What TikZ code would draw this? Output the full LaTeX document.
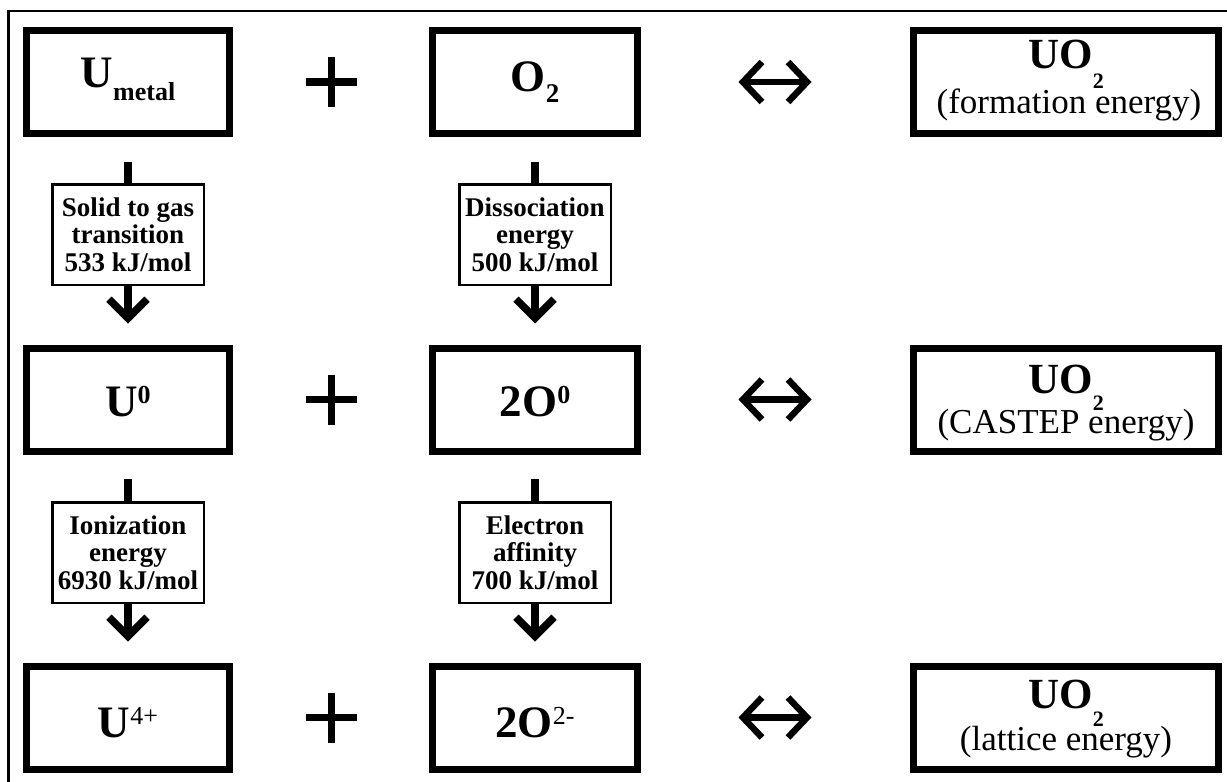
\documentclass[tikz,border=0pt]{standalone}
\usepackage{fontspec}
\setmainfont{Liberation Serif}
\usetikzlibrary{arrows.meta}

% lowered / raised small text after a symbol
\newcommand\lowtext[3]{\lower#1pt\hbox{\fontsize{#2}{#2}\selectfont #3}}
\newcommand\hightext[3]{\raise#1pt\hbox{\fontsize{#2}{#2}\selectfont #3}}

\tikzset{
  bigbox/.style={draw, line width=7pt, rectangle, inner sep=0pt, minimum height=103pt},
  smallbox/.style={draw, line width=2.5pt, fill=white, rectangle, inner sep=0pt,
    minimum width=151.5pt, minimum height=100.5pt, align=center,
    font=\fontsize{27}{27.7}\selectfont\bfseries},
  species/.style={inner sep=0pt, anchor=base, font=\fontsize{45}{45}\selectfont\bfseries},
  product/.style={inner sep=0pt, anchor=base, font=\fontsize{43}{43}\selectfont\bfseries},
  energylbl/.style={inner sep=0pt, anchor=base, font=\fontsize{35}{35}\selectfont},
  stem/.style={line width=7.5pt},
  downarrow/.style={line width=7.5pt, -{Straight Barb[length=19pt, width=38pt]}},
  equil/.style={line width=6.5pt,
    {Straight Barb[length=19pt, width=40pt]}-{Straight Barb[length=19pt, width=40pt]}},
  plusbar/.style={line width=7.5pt},
  frameline/.style={line width=2.5pt},
}

\begin{document}
\begin{tikzpicture}[x=1pt, y=-1pt]
\useasboundingbox (0,0) rectangle (1227,782);
\fill[white] (0,0) rectangle (1227,782);
\draw[frameline] (8.5,782) -- (8.5,11) -- (1227,11);

% species boxes
\node[bigbox, minimum width=203pt] (umetal)    at (128,82)    {};
\node[bigbox, minimum width=205pt] (otwo)      at (535,82)    {};
\node[bigbox, minimum width=305pt] (uoform)    at (1066,82)   {};
\node[bigbox, minimum width=203pt] (uzero)     at (128,399.5) {};
\node[bigbox, minimum width=205pt] (ozero)     at (535,399.5) {};
\node[bigbox, minimum width=305pt] (uocastep)  at (1066,399.5){};
\node[bigbox, minimum width=203pt] (ufour)     at (128,717.5) {};
\node[bigbox, minimum width=205pt] (oion)      at (535,717.5) {};
\node[bigbox, minimum width=305pt] (uolattice) at (1066,717.5){};

% labels of the species
\node[species] (t-umetal) at (128,87) {U\lowtext{13}{26}{metal}};
\node[species] (t-otwo)   at (535,91) {O\lowtext{11}{27}{2}};
\node[product] (t-uoform) at (1066,68) {UO\lowtext{20}{22}{2}};
\node[energylbl] (e-uoform) at (1069,113) {(formation energy)};

\node[species] (t-uzero) at (128,416) {U\hightext{13}{26}{0}};
\node[species] (t-ozero) at (535,416) {2O\hightext{13}{26}{0}};
\node[product] (t-uocastep) at (1066,393) {UO\lowtext{17}{22}{2}};
\node[energylbl] (e-uocastep) at (1066,433) {(CASTEP energy)};

\node[species] (t-ufour) at (128,737) {U\hightext{13}{26}{\mdseries 4+}};
\node[species] (t-oion)  at (535,737) {2O\hightext{13}{26}{\mdseries 2-}};
\node[product] (t-uolattice) at (1066,708) {UO\lowtext{18}{22}{2}};
\node[energylbl] (e-uolattice) at (1066,750) {(lattice energy)};

% energy steps
\node[smallbox] (sublim) at (128,234.5) {Solid to gas\\transition\\533 kJ/mol};
\node[smallbox] (dissoc) at (535,234.5) {Dissociation\\energy\\500 kJ/mol};
\node[smallbox] (ioniz)  at (128,552.5) {Ionization\\energy\\6930 kJ/mol};
\node[smallbox] (affin)  at (535,552.5) {Electron\\affinity\\700 kJ/mol};

\draw[stem, shorten <=24.5pt] (umetal.south) -- (sublim.north);
\draw[downarrow, shorten >=21pt] (sublim.south) -- (uzero.north);
\draw[stem, shorten <=24.5pt] (otwo.south) -- (dissoc.north);
\draw[downarrow, shorten >=21pt] (dissoc.south) -- (ozero.north);
\draw[stem, shorten <=24.5pt] (uzero.south) -- (ioniz.north);
\draw[downarrow, shorten >=21pt] (ioniz.south) -- (ufour.north);
\draw[stem, shorten <=24.5pt] (ozero.south) -- (affin.north);
\draw[downarrow, shorten >=21pt] (affin.south) -- (oion.north);

% equilibrium arrows
\draw[equil, shorten <=97.5pt, shorten >=98.5pt] (otwo.east) -- (uoform.west);
\draw[equil, shorten <=97.5pt, shorten >=98.5pt] (ozero.east) -- (uocastep.west);
\draw[equil, shorten <=97.5pt, shorten >=98.5pt] (oion.east) -- (uolattice.west);

% plus signs
\foreach \py in {82,399.5,717.5}
  \draw[plusbar] (331.5,\py-25) -- (331.5,\py+25) (306,\py) -- (357,\py);
\end{tikzpicture}
\end{document}
